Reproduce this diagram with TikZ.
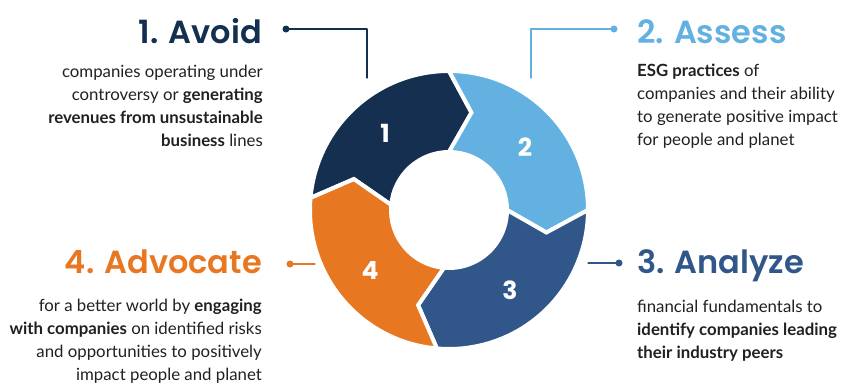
\documentclass[tikz,border=0pt]{standalone}
\usepackage{fontspec}
\setmainfont{Lato}
\newfontfamily\headfont{Poppins}[UprightFont={* SemiBold}]
\newfontfamily\numfont{Poppins}
\definecolor{navy}{HTML}{142F50}
\definecolor{sky}{HTML}{63B1E0}
\definecolor{steel}{HTML}{30568A}
\definecolor{tang}{HTML}{E87722}
\definecolor{ink}{HTML}{231F20}
\tikzset{
	head/.style={font=\headfont\fontsize{32}{32}\selectfont, inner sep=0pt},
	body/.style={font=\fontsize{16.8}{23}\selectfont, text=ink, inner sep=0pt},
	num/.style={font=\numfont\bfseries\fontsize{25}{25}\selectfont, text=white, inner sep=0pt},
	dot/.style={circle, fill, inner sep=0pt, minimum size=7pt},
}
\begin{document}
\begin{tikzpicture}[x=1pt, y=1pt, line join=round, line cap=round]
	\useasboundingbox (0,0) rectangle (844,-383);
	\path
	(449,-210) coordinate (C)
	(367,-78) coordinate (endA)
	(531,-78) coordinate (endB)
	(588,-263) coordinate (endC)
	(315,-264) coordinate (endD)
	;
	% ring of four arrows
	\begin{scope}[shift={(C)}]
		\foreach \c/\a/\b in {navy/175/90, sky/90/0, steel/0/-95, tang/265/175}
			{\filldraw[fill=\c, draw=white, line width=4pt, line join=miter]
				(\a:139) arc[start angle=\a, end angle=\b, radius=139]
				-- ({\b-13}:100) -- (\b:58)
				arc[start angle=\b, end angle=\a, radius=58]
				-- ({\a-13}:100) -- cycle;}
	\end{scope}
	\node[num] (n1) at (385,-133) {1};
	\node[num] (n2) at (525,-147) {2};
	\node[num] (n3) at (510,-290) {3};
	\node[num] (n4) at (370,-270) {4};
	% headings
	\node[head, text=navy, anchor=base east] (hA) at (262,-43) {1. Avoid};
	\node[head, text=sky, anchor=base west] (hB) at (637,-43) {2. Assess};
	\node[head, text=steel, anchor=base west] (hC) at (637,-273) {3. Analyze};
	\node[head, text=tang, anchor=base east] (hD) at (262,-273) {4. Advocate};
	% connectors
	\node[dot, navy] (dA) at (286,-29) {};
	\node[dot, sky] (dB) at (614,-29) {};
	\node[dot, steel] (dC) at (619,-263) {};
	\node[dot, tang] (dD) at (290,-264) {};
	\draw[navy, line width=1.2pt] (dA.center) -| (endA);
	\draw[sky, line width=1.2pt] (dB.center) -| (endB);
	\draw[steel, line width=1.2pt] (endC) -- (dC.center);
	\draw[tang, line width=1.2pt] (dD.center) -- (endD);
	% texts
	\node[body, align=right, anchor=north east] (tA) at (263,-65) {companies operating under\\controversy or \textbf{generating}\\\textbf{revenues from unsustainable}\\\textbf{business} lines};
	\node[body, align=left, anchor=north west] (tB) at (637,-64) {\textbf{ESG practices} of\\companies and their ability\\to generate positive impact\\for people and planet};
	\node[body, align=left, anchor=north west] (tC) at (637,-300) {financial fundamentals to\\\textbf{identify companies leading}\\\textbf{their industry peers}};
	\node[body, align=right, anchor=north east] (tD) at (262,-299) {for a better world by \textbf{engaging}\\\textbf{with companies} on identified risks\\and opportunities to positively\\impact people and planet};
\end{tikzpicture}
\end{document}
